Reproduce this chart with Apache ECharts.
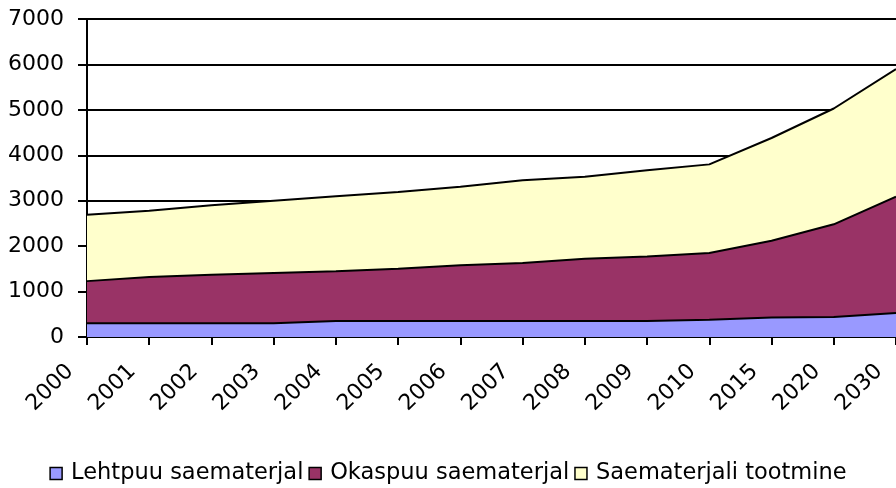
<!DOCTYPE html>
<html>
<head>
<meta charset="utf-8">
<script src="https://cdn.jsdelivr.net/npm/echarts@6/dist/echarts.min.js"></script>
<style>
  html, body { margin: 0; padding: 0; background: #fff; }
  #chart { width: 896px; height: 488px; }
</style>
</head>
<body>
<div id="chart"></div>
<script>
// aastad
var years = ['2000', '2001', '2002', '2003', '2004', '2005', '2006', '2007', '2008', '2009', '2010', '2015', '2020', '2030'];

// values per series (stacked, bottom to top)
var lehtpuu = [300, 300, 300, 300, 350, 350, 350, 350, 350, 350, 380, 430, 440, 530];
var okaspuu = [930, 1020, 1070, 1110, 1100, 1150, 1230, 1280, 1370, 1420, 1470, 1690, 2040, 2560];
var saematerjal = [1460, 1460, 1530, 1590, 1650, 1690, 1730, 1820, 1810, 1900, 1950, 2260, 2550, 2810];

var names = ['Lehtpuu saematerjal', 'Okaspuu saematerjal', 'Saematerjali tootmine'];
var colors = ['#9999FF', '#993366', '#FFFFCC'];

var font = '"DejaVu Sans", sans-serif';

function areaSeries(name, data, color) {
    return {
        name: name,
        type: 'line',
        stack: 'total',
        data: data,
        symbol: 'none',
        smooth: false,
        itemStyle: { color: color },
        lineStyle: { color: '#000', width: 2 },
        areaStyle: { color: color, opacity: 1 },
        emphasis: { disabled: true }
    };
}

var myChart = echarts.init(document.getElementById('chart'));
myChart.setOption({
    animation: false,
    grid: { left: 87, right: 0, top: 19, bottom: 151 },
    legend: {
        top: 457,
        left: 'center',
        icon: 'rect',
        itemWidth: 12,
        itemHeight: 12,
        itemGap: 5,
        itemStyle: { borderColor: '#000', borderWidth: 1.5 },
        textStyle: { fontSize: 22.5, color: '#000', fontFamily: font, padding: [0, 0, 0, 4] },
        data: names
    },
    xAxis: {
        type: 'category',
        data: years,
        boundaryGap: false,
        axisLine: { lineStyle: { color: '#000', width: 2 } },
        axisTick: { show: true, length: 8, lineStyle: { color: '#000', width: 2 } },
        axisLabel: {
            rotate: 45, fontSize: 22, color: '#000', fontFamily: font,
            margin: 14, interval: 0, padding: [0, 24, 0, 0]
        },
        splitLine: { show: false }
    },
    yAxis: {
        type: 'value',
        min: 0,
        max: 7000,
        interval: 1000,
        axisLine: { show: true, lineStyle: { color: '#000', width: 2 } },
        axisTick: { show: true, length: 9, lineStyle: { color: '#000', width: 2 } },
        axisLabel: {
            fontSize: 22, color: '#000', fontFamily: font, margin: 23,
            formatter: function (v) { return String(v); }
        },
        splitLine: { lineStyle: { color: '#000', width: 2 } }
    },
    series: [
        areaSeries(names[0], lehtpuu, colors[0]),
        areaSeries(names[1], okaspuu, colors[1]),
        areaSeries(names[2], saematerjal, colors[2])
    ]
});
</script>
</body>
</html>
